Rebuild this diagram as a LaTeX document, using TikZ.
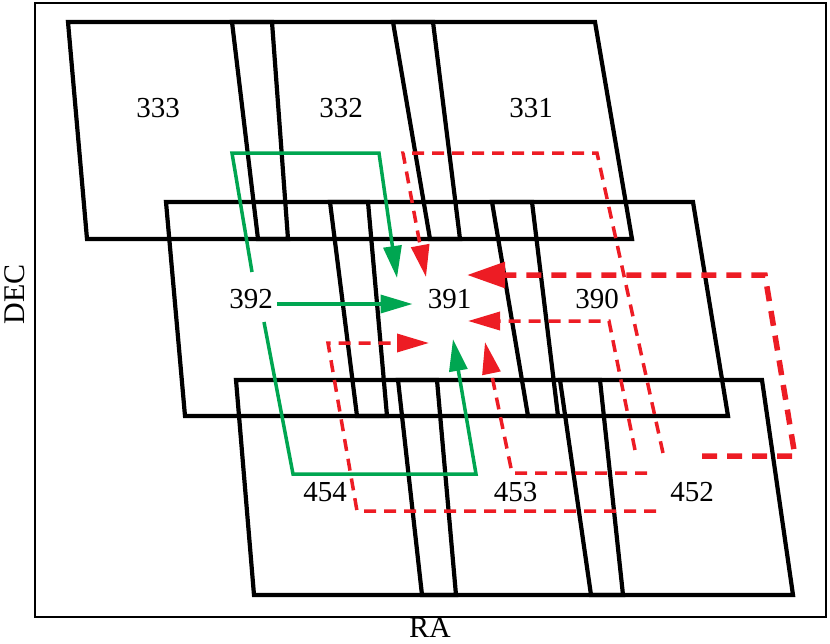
\documentclass[tikz,border=0pt]{standalone}
\usepackage{fontspec}
\setmainfont{Liberation Serif}
\usetikzlibrary{arrows}
\usetikzlibrary{arrows.meta}

\definecolor{tilegreen}{RGB}{0,166,81}
\definecolor{tilered}{RGB}{237,28,36}

\begin{document}
\begin{tikzpicture}[x=1pt,y=-1pt,
    tile/.style={line width=4.2pt},
    lbl/.style={inner sep=4pt,font=\fontsize{29}{32}\selectfont},
    axislbl/.style={inner sep=0pt,font=\fontsize{30}{32}\selectfont},
    greenpath/.style={tilegreen,line width=3.5pt,-{Triangle[length=32pt,width=18pt]}},
    redpath/.style={tilered,line width=3.5pt,dash pattern=on 12pt off 8pt,-{Triangle[length=32pt,width=18pt]}},
    redthick/.style={tilered,line width=5.5pt,dash pattern=on 15pt off 10pt,-{Triangle[length=38pt,width=25pt]}}]

    \useasboundingbox (0,0) rectangle (830,643);

    % outer frame and axes
    \draw [line width=2.7pt] (35,3) rectangle (826,617);
    \node [axislbl] (ra) at (430,628) {RA};
    \node [axislbl,rotate=90] (dec) at (15,294.5) {DEC};

    % top row of tiles
    \draw [tile] (68,22) -- (272,22) -- (288,239) -- (87,239) -- cycle;
    \draw [tile] (232,22) -- (433,22) -- (460,239) -- (258,239) -- cycle;
    \draw [tile] (393,22) -- (595,22) -- (632,239) -- (430,239) -- cycle;

    % middle row of tiles
    \draw [tile] (166,202) -- (368,202) -- (387,416) -- (185,416) -- cycle;
    \draw [tile] (330,202) -- (532,202) -- (558,416) -- (357,416) -- cycle;
    \draw [tile] (492,202) -- (693,202) -- (728,416) -- (528,416) -- cycle;

    % bottom row of tiles
    \draw [tile] (236,380) -- (437,380) -- (456,595) -- (254,595) -- cycle;
    \draw [tile] (398,380) -- (600,380) -- (623,595) -- (422,595) -- cycle;
    \draw [tile] (560,380) -- (762,380) -- (793,595) -- (591,595) -- cycle;

    % tile numbers
    \node [lbl] (t333) at (158,108.5) {333};
    \node [lbl] (t332) at (341,108.5) {332};
    \node [lbl] (t331) at (531,108.5) {331};
    \node [lbl] (t392) at (251,299) {392};
    \node [lbl] (t391) at (449.5,299) {391};
    \node [lbl] (t390) at (597,298.5) {390};
    \node [lbl] (t454) at (325,492) {454};
    \node [lbl] (t453) at (515.5,492) {453};
    \node [lbl] (t452) at (692,492) {452};

    % green moves
    \draw [greenpath] (252,272) -- (232,153) -- (379,153) -- (397,278);
    \draw [greenpath,shorten >=11pt] ([yshift=-5pt]t392.east) -- ([yshift=-5pt]t391.west);
    \draw [greenpath] (264,322) -- (293,474) -- (476,474) -- (453,339);

    % red moves
    \draw [redpath] (663,453) -- (597,153) -- (403,153) -- (426,277);
    \draw [redpath] (635,450) -- (609,321) -- (468,321);
    \draw [redpath] (656,511) -- (357,511) -- (328,343) -- (429,343);
    \draw [redpath] (647,473) -- (512,473) -- (485,342);
    \draw [redthick] (702,456) -- (795,456) -- (765,275) -- (467,275);

\end{tikzpicture}
\end{document}
